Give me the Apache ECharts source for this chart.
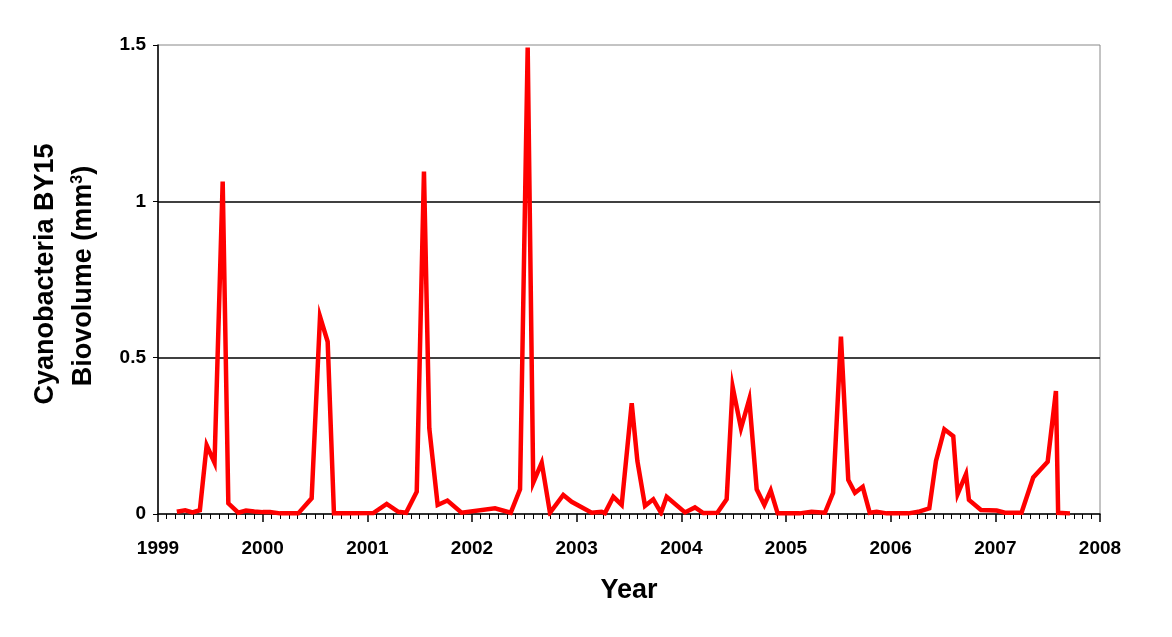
<!DOCTYPE html>
<html>
<head>
<meta charset="utf-8">
<script src="https://cdn.jsdelivr.net/npm/echarts@6/dist/echarts.min.js"></script>
<style>
html,body{margin:0;padding:0;background:#fff;}
#chart{width:1172px;height:637px;}
</style>
</head>
<body>
<div id="chart"></div>
<script>
// Sample dates (decimal years) and cyanobacteria biovolume (mm^3)
var sampleYears = [
  1999.18, 1999.26, 1999.33, 1999.40, 1999.465, 1999.54, 1999.618, 1999.672, 1999.767, 1999.841,
  1999.92, 2000.00, 2000.07, 2000.166, 2000.34, 2000.468, 2000.548, 2000.621, 2000.681, 2000.786,
  2001.057, 2001.185, 2001.296, 2001.37, 2001.472, 2001.541, 2001.592, 2001.672, 2001.765, 2001.90,
  2002.22, 2002.37, 2002.459, 2002.532, 2002.585, 2002.666, 2002.745, 2002.872, 2002.952, 2003.143,
  2003.239, 2003.27, 2003.35, 2003.43, 2003.526, 2003.58, 2003.653, 2003.732, 2003.806, 2003.86,
  2004.035, 2004.13, 2004.21, 2004.344, 2004.433, 2004.49, 2004.57, 2004.649, 2004.72, 2004.793,
  2004.854, 2004.92, 2005.13, 2005.244, 2005.372, 2005.45, 2005.525, 2005.595, 2005.659, 2005.733,
  2005.80, 2005.866, 2005.962, 2006.17, 2006.264, 2006.369, 2006.433, 2006.513, 2006.598, 2006.64,
  2006.72, 2006.748, 2006.863, 2007.013, 2007.092, 2007.25, 2007.362, 2007.50, 2007.579, 2007.60,
  2007.713
];
var biovolume = [
  0.007, 0.012, 0.005, 0.012, 0.22, 0.164, 1.063, 0.034, 0.004, 0.011,
  0.008, 0.006, 0.006, 0.002, 0.002, 0.05, 0.631, 0.551, 0.002, 0.002,
  0.003, 0.032, 0.007, 0.004, 0.071, 1.095, 0.274, 0.029, 0.043, 0.004,
  0.018, 0.004, 0.079, 1.492, 0.1, 0.164, 0.004, 0.061, 0.039, 0.004,
  0.007, 0.003, 0.055, 0.029, 0.354, 0.17, 0.026, 0.047, 0.004, 0.055,
  0.005, 0.021, 0.003, 0.004, 0.047, 0.407, 0.274, 0.367, 0.079, 0.029,
  0.075, 0.002, 0.002, 0.007, 0.004, 0.068, 0.567, 0.109, 0.068, 0.087,
  0.004, 0.007, 0.002, 0.002, 0.007, 0.018, 0.17, 0.271, 0.249, 0.064,
  0.128, 0.045, 0.013, 0.011, 0.004, 0.004, 0.117, 0.167, 0.393, 0.004,
  0.002
];
var yearTicks = [1999, 2000, 2001, 2002, 2003, 2004, 2005, 2006, 2007, 2008];
var yTickLabels = ['0', '0.5', '1', '1.5'];

var FONT = '"Liberation Sans", Arial, sans-serif';
var seriesData = sampleYears.map(function (x, i) { return [x, biovolume[i]]; });

var chart = echarts.init(document.getElementById('chart'), null, {renderer: 'canvas'});
chart.setOption({
  backgroundColor: '#ffffff',
  animation: false,
  grid: {left: 158, right: 72, top: 45, bottom: 123, show: true, borderColor: '#888888', borderWidth: 1, backgroundColor: 'transparent'},
  xAxis: {
    type: 'value',
    min: yearTicks[0], max: yearTicks[yearTicks.length - 1], interval: 1,
    name: 'Year', nameLocation: 'middle', nameGap: 63,
    nameTextStyle: {fontFamily: FONT, fontWeight: 'bold', fontSize: 27, color: '#000'},
    axisLine: {show: true, onZero: false, lineStyle: {color: '#000', width: 1.5}},
    axisTick: {show: true, length: 8, lineStyle: {color: '#000', width: 1.5}},
    minorTick: {show: true, splitNumber: 12, length: 5, lineStyle: {color: '#000', width: 1}},
    axisLabel: {fontFamily: FONT, fontWeight: 'bold', fontSize: 19, color: '#000', margin: 25,
      formatter: function (v) { return String(Math.round(v)); }},
    splitLine: {show: false}
  },
  yAxis: {
    type: 'value',
    min: 0, max: 1.5, interval: 0.5,
    axisLine: {show: true, lineStyle: {color: '#000', width: 1.5}},
    axisTick: {show: true, length: 5, lineStyle: {color: '#000', width: 1}},
    axisLabel: {fontFamily: FONT, fontWeight: 'bold', fontSize: 19, color: '#000', margin: 12,
      formatter: function (v) { return yTickLabels[Math.round(v * 2)]; }},
    splitLine: {show: true, showMinLine: false, showMaxLine: false, lineStyle: {color: '#000', width: 1.5}}
  },
  graphic: [
    {type: 'text', x: 46, y: 274, rotation: Math.PI / 2,
      style: {text: 'Cyanobacteria BY15', fontFamily: FONT, fontWeight: 'bold', fontSize: 27, fill: '#000',
        align: 'center', verticalAlign: 'middle'}},
    {type: 'text', x: 84, y: 276, rotation: Math.PI / 2,
      style: {text: '{a|Biovolume (mm}{s|3}{a|)}', fontFamily: FONT, fontWeight: 'bold', fontSize: 27, fill: '#000',
        align: 'center', verticalAlign: 'middle',
        rich: {a: {fontFamily: FONT, fontWeight: 'bold', fontSize: 27, fill: '#000'},
               s: {fontFamily: FONT, fontWeight: 'bold', fontSize: 16, fill: '#000', verticalAlign: 'top', padding: [0, 0, 12, 0]}}}}
  ],
  series: [{
    type: 'line',
    data: seriesData,
    showSymbol: false,
    symbol: 'none',
    lineStyle: {color: '#ff0000', width: 4.5, join: 'miter'},
    itemStyle: {color: '#ff0000'},
    z: 5
  }]
});
</script>
</body>
</html>
